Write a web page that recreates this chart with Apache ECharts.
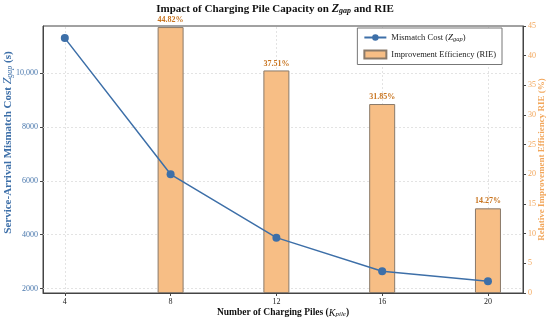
<!DOCTYPE html>
<html><head><meta charset="utf-8">
<script src="https://cdn.jsdelivr.net/npm/echarts@6/dist/echarts.min.js"></script>
<style>html,body{margin:0;padding:0;background:#fff}#c{width:550px;height:323px}</style>
</head><body><div id="c"></div>
<script>
const piles = [4, 8, 12, 16, 20];
const mismatchCost = [11300, 6243, 3891, 2645, 2273];
const rieValues = [null, 44.82, 37.51, 31.85, 14.27];
const leftTicks = [2000, 4000, 6000, 8000, 10000];
const rightTicks = [0, 5, 10, 15, 20, 25, 30, 35, 40, 45];

const FONT = 'Liberation Serif';
const BLUE = '#3d6fa8';
const ORANGE = '#f2a65a';
const chart = echarts.init(document.getElementById('c'));

const lineData = piles.map((p, i) => [p, mismatchCost[i]]);
const barData = piles.map((p, i) => [p, rieValues[i]]).filter(d => d[1] !== null);

const gridLineStyle = {color: '#dcdcdc', type: [2, 2], width: 0.8};

chart.setOption({
  animation: false,
  title: {
    text: '{b|Impact of Charging Pile Capacity on }{i|Z}{s|gap}{b| and RIE}',
    left: 'center', top: -2,
    textStyle: {
      rich: {
        b: {fontFamily: FONT, fontWeight: 'bold', fontSize: 11, color: '#111'},
        i: {fontFamily: FONT, fontStyle: 'italic', fontSize: 12, color: '#111'},
        s: {fontFamily: FONT, fontStyle: 'italic', fontSize: 8, color: '#111', verticalAlign: 'bottom', padding: [4, 0, 0, 0]}
      }
    }
  },
  grid: {left: 43, right: 27, top: 26, bottom: 30, show: true, borderColor: '#444', borderWidth: 1, backgroundColor: 'transparent', containLabel: false, outerBoundsMode: 'none'},
  legend: {
    right: 48, top: 28, orient: 'vertical', itemGap: 7,
    backgroundColor: '#fff', borderColor: '#777', borderWidth: 1, padding: [5, 6, 5, 6],
    itemWidth: 22, itemHeight: 8,
    textStyle: {fontFamily: FONT, fontSize: 8.5, color: '#222',
      rich: {
        t: {fontFamily: FONT, fontSize: 8.5, color: '#222'},
        i: {fontFamily: FONT, fontSize: 9, fontStyle: 'italic', color: '#222'},
        s: {fontFamily: FONT, fontSize: 6.5, fontStyle: 'italic', color: '#222', verticalAlign: 'bottom', padding: [3, 0, 0, 0]}
      }},
    formatter: function (name) {
      if (name === 'Mismatch Cost') return '{t|Mismatch Cost (}{i|Z}{s|gap}{t|)}';
      return '{t|' + name + '}';
    },
    data: ['Mismatch Cost', {name: 'Improvement Efficiency (RIE)', icon: 'rect'}]
  },
  xAxis: {
    type: 'value', min: 3.175, max: 21.325,
    name: '{b|Number of Charging Piles (}{i|K}{s|pile}{b|)}',
    nameLocation: 'middle', nameGap: 15, nameMoveOverlap: false,
    nameTextStyle: {rich: {
      b: {fontFamily: FONT, fontWeight: 'bold', fontSize: 9.5, color: '#111'},
      i: {fontFamily: FONT, fontStyle: 'italic', fontSize: 10, color: '#111'},
      s: {fontFamily: FONT, fontStyle: 'italic', fontSize: 7, color: '#111', verticalAlign: 'bottom', padding: [3, 0, 0, 0]}
    }},
    axisLine: {show: true, lineStyle: {color: '#444'}},
    axisTick: {show: true, customValues: piles, length: 3, lineStyle: {color: '#444'}},
    axisLabel: {customValues: piles, fontFamily: FONT, fontSize: 8, color: '#222', margin: 5},
    splitLine: {show: false}
  },
  yAxis: [
    {
      type: 'value', min: 1835, max: 11750, position: 'left',
      name: '{b|Service-Arrival Mismatch Cost }{i|Z}{s|gap}{b| (s)}',
      nameLocation: 'middle', nameGap: 29, nameRotate: 90, nameMoveOverlap: false,
      nameTextStyle: {padding: [0, 0, 0, 34], rich: {
        b: {fontFamily: FONT, fontWeight: 'bold', fontSize: 11, color: BLUE},
        i: {fontFamily: FONT, fontStyle: 'italic', fontSize: 12, color: BLUE},
        s: {fontFamily: FONT, fontStyle: 'italic', fontSize: 8, color: BLUE, verticalAlign: 'bottom', padding: [4, 0, 0, 0]}
      }},
      axisLine: {show: true, lineStyle: {color: '#444'}},
      axisTick: {show: true, customValues: leftTicks, length: 3, lineStyle: {color: '#444'}},
      axisLabel: {customValues: leftTicks, fontFamily: FONT, fontSize: 8, color: '#4a78ad', margin: 5,
        formatter: v => v >= 10000 ? v.toLocaleString('en-US') : String(v)},
      splitLine: {show: false}
    },
    {
      type: 'value', min: 0, max: 45, interval: 5, position: 'right',
      name: 'Relative Improvement Efficiency RIE (%)',
      nameLocation: 'middle', nameGap: 14, nameRotate: 90, nameMoveOverlap: false,
      nameTextStyle: {fontFamily: FONT, fontWeight: 'bold', fontSize: 9, color: ORANGE},
      axisLine: {show: true, lineStyle: {color: '#444'}},
      axisTick: {show: true, length: 3, lineStyle: {color: '#444'}},
      axisLabel: {fontFamily: FONT, fontSize: 8, color: ORANGE, margin: 5},
      splitLine: {show: false}
    }
  ],
  series: [
    {
      name: 'Improvement Efficiency (RIE)', type: 'bar', yAxisIndex: 1, z: 2,
      data: barData, barWidth: 26,
      itemStyle: {color: '#f7be85', borderColor: '#8a7a6a', borderWidth: 1},
      label: {show: true, position: 'top', distance: 3, fontFamily: FONT, fontWeight: 'bold', fontSize: 8, color: '#c8741f',
        formatter: p => p.value[1].toFixed(2) + '%'}
    },
    {
      name: 'Mismatch Cost', type: 'line', yAxisIndex: 0, z: 3,
      data: lineData, symbol: 'circle', symbolSize: 8,
      lineStyle: {color: BLUE, width: 1.5},
      itemStyle: {color: BLUE},
      markLine: {
        silent: true, symbol: 'none', z: 1, label: {show: false},
        lineStyle: gridLineStyle,
        data: leftTicks.map(v => ({yAxis: v})).concat(piles.map(v => ({xAxis: v})))
      }
    }
  ]
});
</script></body></html>
